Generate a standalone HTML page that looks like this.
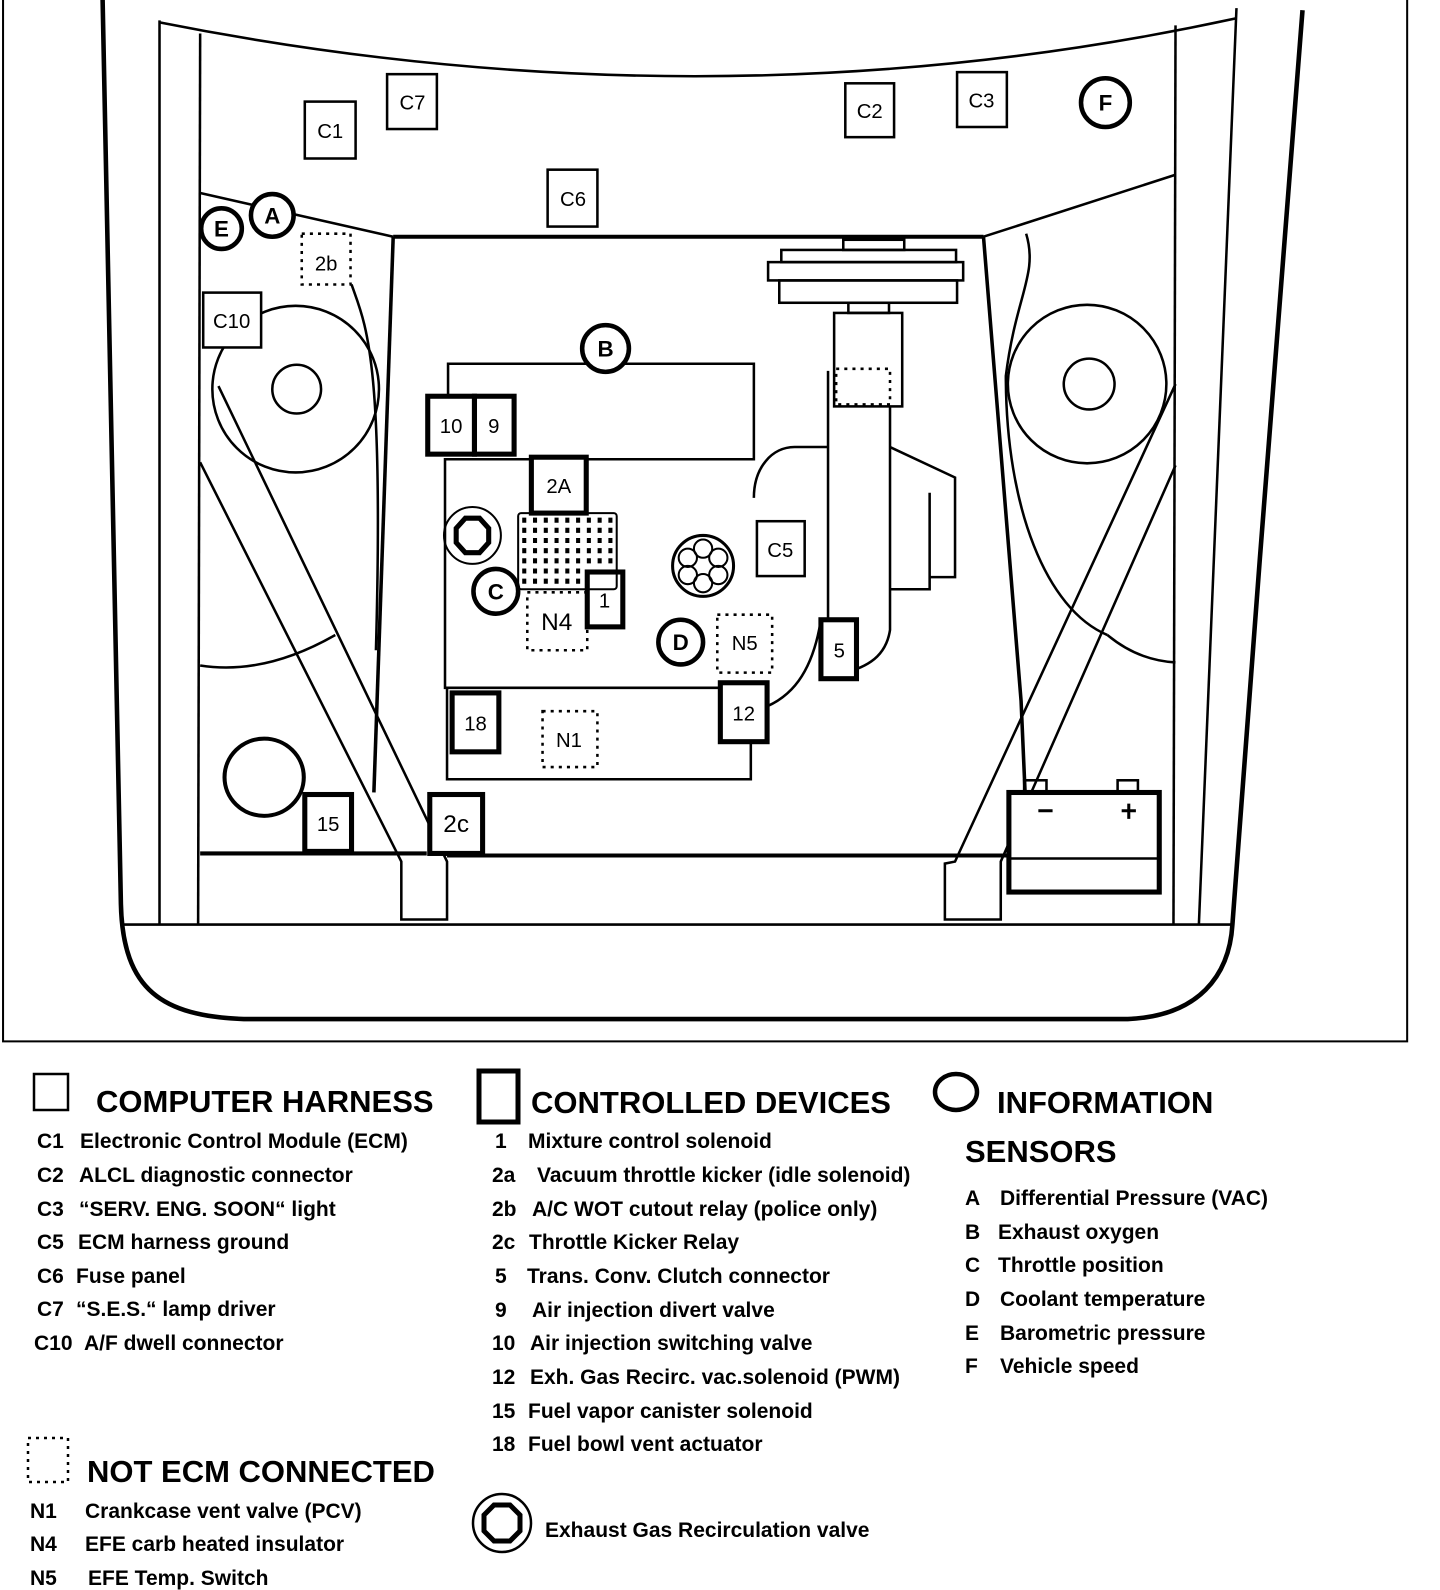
<!DOCTYPE html>
<html><head><meta charset="utf-8"><style>
html,body{margin:0;padding:0;background:#fff;}
svg{display:block}
text{font-family:"Liberation Sans",sans-serif;fill:#000}
.lg{font-weight:bold;font-size:21px}
.hd{font-weight:bold;font-size:31px}
</style></head><body>
<svg width="1440" height="1590" viewBox="0 0 1440 1590" xmlns="http://www.w3.org/2000/svg">
<g transform="scale(1.016,1.016)" fill="none" stroke="#000" stroke-width="2.5">
<path d="M3,0 L3,1025 L1385,1025 L1385,0" stroke-width="2"/>
<path d="M101,0 L119,890 C121,975 160,1000 240,1003 L1110,1003 C1180,1000 1210,960 1213,910 L1240,550 L1282,10" stroke-width="4.5"/>
<line x1="120" y1="910" x2="1213" y2="910"/>
<line x1="157" y1="20" x2="157" y2="910"/>
<line x1="1217" y1="8" x2="1180" y2="910"/>
<line x1="197" y1="33" x2="195" y2="910"/>
<line x1="1157" y1="25" x2="1155" y2="910"/>
<path d="M157,22 Q700,130 1217,18"/>
<path d="M197,190 L387,233"/>
<path d="M387,233 L968,233" stroke-width="4"/>
<path d="M968,233 L1157,172"/>
<path d="M387,233 L368,780" stroke-width="3.5"/>
<path d="M968,233 L1005,690 L1012,850" stroke-width="3.5"/>
<path d="M197,840 L420,840 M440,842 L1000,842" stroke-width="4"/>
<path d="M197,455 L395,848 L395,905 L440,905 L440,848 L215,380"/>
<path d="M1157,378 L940,848 L930,850 L930,905 L985,905 L985,848 L1157,458"/>
<circle cx="291" cy="383" r="82"/>
<circle cx="292" cy="383" r="24"/>
<circle cx="1070" cy="378" r="78"/>
<circle cx="1072" cy="378" r="25"/>
<path d="M346,280 C360,320 378,350 370,640"/>
<path d="M197,655 Q260,665 330,625"/>
<path d="M1010,230 C1022,270 1000,290 990,370 C990,500 1030,600 1090,625"/>
<path d="M1090,625 Q1120,650 1157,652"/>
<ellipse cx="260" cy="765" rx="39" ry="38" stroke-width="4"/>
<path d="M441,390 L441,358 L742,358 L742,452 L438,452 L438,677 L741,677"/>
<path d="M440,677 L440,767 L739,767 L739,730"/>
<rect x="830" y="236" width="60" height="10"/>
<rect x="769" y="246" width="172" height="12"/>
<rect x="756" y="258" width="192" height="18"/>
<rect x="767" y="276" width="175" height="22"/>
<rect x="835" y="298" width="40" height="10"/>
<rect x="821" y="308" width="67" height="92"/>
<path d="M815,365 L815,640 M876,400 L876,620 C870,660 830,660 815,668"/>
<path d="M815,440 L782,440 C760,440 742,460 742,490"/>
<path d="M876,440 L940,470 L940,568 L915,568 M915,485 L915,580 L876,580"/>
<path d="M808,610 C800,660 780,690 741,700"/>
<rect x="300" y="100" width="50" height="56"/>
<rect x="381" y="73" width="49" height="54"/>
<rect x="539" y="167" width="49" height="56"/>
<rect x="832" y="82" width="48" height="53"/>
<rect x="942" y="71" width="49" height="54"/>
<rect x="200" y="288" width="57" height="54" fill="#fff"/>
<rect x="745" y="513" width="47" height="54" fill="#fff"/>
<g stroke-width="5" fill="#fff">
<rect x="421" y="390" width="46" height="57"/>
<rect x="467" y="390" width="39" height="57"/>
<rect x="523" y="450" width="54" height="55"/>
<rect x="578" y="563" width="35" height="54"/>
<rect x="709" y="672" width="46" height="58"/>
<rect x="445" y="682" width="46" height="58"/>
<rect x="423" y="782" width="52" height="58"/>
<rect x="300" y="782" width="46" height="56"/>
<rect x="808" y="610" width="35" height="58"/>
<rect x="993" y="780" width="148" height="98"/>
</g>
<line x1="993" y1="845" x2="1141" y2="845"/>
<rect x="1008" y="768" width="22" height="12"/>
<rect x="1100" y="768" width="20" height="12"/>
<path d="M1022,798 L1036,798 M1104,798 L1118,798 M1111,791 L1111,806" stroke-width="3"/>
<rect x="510" y="505" width="97" height="75" rx="3" stroke-width="2"/>
<g stroke-width="5" stroke-dasharray="4,6.6">
<line x1="514" y1="512" x2="607" y2="512"/><line x1="514" y1="522" x2="607" y2="522"/><line x1="514" y1="532" x2="607" y2="532"/><line x1="514" y1="542" x2="607" y2="542"/><line x1="514" y1="552" x2="607" y2="552"/><line x1="514" y1="562" x2="577" y2="562"/><line x1="514" y1="572" x2="577" y2="572"/>
</g>
<g stroke-width="2.5" stroke-dasharray="3,5">
<rect x="297" y="230" width="48" height="50"/>
<rect x="519" y="583" width="59" height="57"/>
<rect x="706" y="605" width="54" height="57"/>
<rect x="534" y="700" width="54" height="55"/>
<rect x="823" y="363" width="53" height="35"/>
</g>
<g stroke-width="4.5" fill="#fff">
<circle cx="218" cy="225" r="20"/>
<circle cx="268" cy="212" r="21"/>
<circle cx="1088" cy="101" r="24"/>
<circle cx="596" cy="343" r="23"/>
<circle cx="488" cy="582" r="22"/>
<circle cx="670" cy="632" r="22"/>
</g>
<circle cx="465" cy="527" r="28" stroke-width="2"/>
<polygon points="458,510 472,510 481,520 481,534 472,544 458,544 449,534 449,520" stroke-width="5"/>
<circle cx="692" cy="557" r="30" stroke-width="3"/>
<g stroke-width="2"><circle cx="692" cy="540" r="9"/><circle cx="707" cy="549" r="9"/><circle cx="707" cy="566" r="9"/><circle cx="692" cy="574" r="9"/><circle cx="677" cy="566" r="9"/><circle cx="677" cy="549" r="9"/></g>
</g>
<g transform="scale(1.016,1.016)" font-size="20" text-anchor="middle">
<text x="325" y="136">C1</text><text x="406" y="108">C7</text><text x="564" y="203">C6</text>
<text x="856" y="116">C2</text><text x="966" y="106">C3</text>
<text x="228" y="323">C10</text><text x="321" y="266">2b</text><text x="768" y="548">C5</text>
<text x="444" y="426">10</text><text x="486" y="426">9</text><text x="550" y="485">2A</text>
<text x="595" y="598">1</text><text x="548" y="620" font-size="24">N4</text><text x="733" y="640">N5</text>
<text x="732" y="709">12</text><text x="468" y="719">18</text><text x="560" y="735">N1</text>
<text x="449" y="819" font-size="24">2c</text><text x="323" y="818">15</text><text x="826" y="647">5</text>
<g font-weight="bold" font-size="22"><text x="218" y="233">E</text><text x="268" y="220">A</text><text x="1088" y="109">F</text><text x="596" y="351">B</text><text x="488" y="590">C</text><text x="670" y="640">D</text></g>
</g>
<rect x="34" y="1074" width="34" height="36" fill="none" stroke="#000" stroke-width="2.5"/>
<text class="hd" x="96" y="1112">COMPUTER HARNESS</text>
<g class="lg">
<text x="37" y="1148">C1</text><text x="80" y="1148">Electronic Control Module (ECM)</text>
<text x="37" y="1182">C2</text><text x="79" y="1182">ALCL diagnostic connector</text>
<text x="37" y="1216">C3</text><text x="79" y="1216">“SERV. ENG. SOON“ light</text>
<text x="37" y="1249">C5</text><text x="78" y="1249">ECM harness ground</text>
<text x="37" y="1283">C6</text><text x="76" y="1283">Fuse panel</text>
<text x="37" y="1316">C7</text><text x="76" y="1316">“S.E.S.“ lamp driver</text>
<text x="34" y="1350">C10</text><text x="84" y="1350">A/F dwell connector</text>
</g>
<rect x="479" y="1071" width="39" height="51" fill="none" stroke="#000" stroke-width="5"/>
<text class="hd" x="531" y="1113">CONTROLLED DEVICES</text>
<g class="lg">
<text x="495" y="1148">1</text><text x="528" y="1148">Mixture control solenoid</text>
<text x="492" y="1182">2a</text><text x="537" y="1182">Vacuum throttle kicker (idle solenoid)</text>
<text x="492" y="1216">2b</text><text x="532" y="1216">A/C WOT cutout relay (police only)</text>
<text x="492" y="1249">2c</text><text x="529" y="1249">Throttle Kicker Relay</text>
<text x="495" y="1283">5</text><text x="527" y="1283">Trans. Conv. Clutch connector</text>
<text x="495" y="1317">9</text><text x="532" y="1317">Air injection divert  valve</text>
<text x="492" y="1350">10</text><text x="530" y="1350">Air injection switching valve</text>
<text x="492" y="1384">12</text><text x="530" y="1384">Exh. Gas Recirc. vac.solenoid (PWM)</text>
<text x="492" y="1418">15</text><text x="528" y="1418">Fuel vapor canister solenoid</text>
<text x="492" y="1451">18</text><text x="528" y="1451">Fuel bowl vent actuator</text>
</g>
<circle cx="502" cy="1523" r="29" fill="none" stroke="#000" stroke-width="2.5"/>
<polygon points="494,1505 510,1505 520,1515 520,1531 510,1541 494,1541 484,1531 484,1515" fill="none" stroke="#000" stroke-width="5"/>
<text class="lg" x="545" y="1537">Exhaust Gas Recirculation valve</text>
<ellipse cx="956" cy="1092" rx="21" ry="18" fill="none" stroke="#000" stroke-width="4.5"/>
<text class="hd" x="997" y="1113">INFORMATION</text>
<text class="hd" x="965" y="1162">SENSORS</text>
<g class="lg">
<text x="965" y="1205">A</text><text x="1000" y="1205">Differential Pressure (VAC)</text>
<text x="965" y="1239">B</text><text x="998" y="1239">Exhaust oxygen</text>
<text x="965" y="1272">C</text><text x="998" y="1272">Throttle position</text>
<text x="965" y="1306">D</text><text x="1000" y="1306">Coolant temperature</text>
<text x="965" y="1340">E</text><text x="1000" y="1340">Barometric pressure</text>
<text x="965" y="1373">F</text><text x="1000" y="1373">Vehicle speed</text>
</g>
<rect x="28" y="1438" width="40" height="44" fill="none" stroke="#000" stroke-width="2.5" stroke-dasharray="3,5"/>
<text class="hd" x="87" y="1482">NOT ECM CONNECTED</text>
<g class="lg">
<text x="30" y="1518">N1</text><text x="85" y="1518">Crankcase vent  valve (PCV)</text>
<text x="30" y="1551">N4</text><text x="85" y="1551">EFE carb heated insulator</text>
<text x="30" y="1585">N5</text><text x="88" y="1585">EFE Temp. Switch</text>
</g>
</svg>
</body></html>
